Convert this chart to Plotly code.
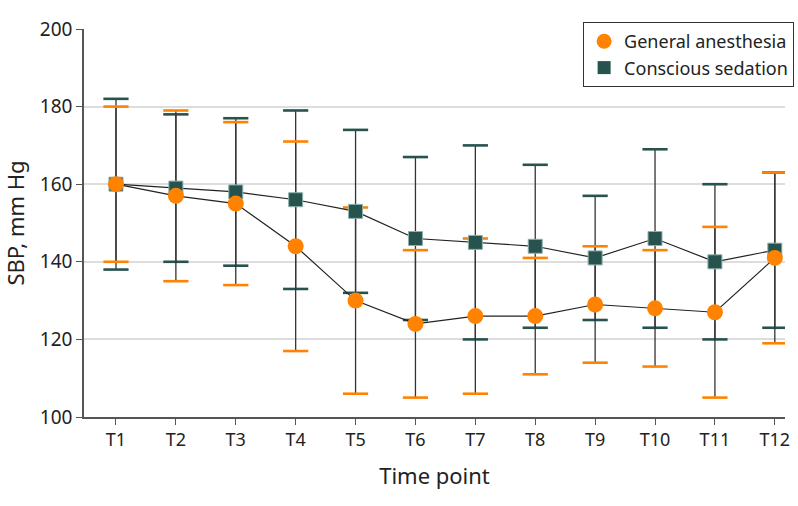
import plotly.graph_objects as go

time_points = ["T1", "T2", "T3", "T4", "T5", "T6", "T7", "T8", "T9", "T10", "T11", "T12"]
x_pos = list(range(1, 13))

ga_mean = [160, 157, 155, 144, 130, 124, 126, 126, 129, 128, 127, 141]
ga_upper = [180, 179, 176, 171, 154, 143, 146, 141, 144, 143, 149, 163]
ga_lower = [140, 135, 134, 117, 106, 105, 106, 111, 114, 113, 105, 119]

cs_mean = [160, 159, 158, 156, 153, 146, 145, 144, 141, 146, 140, 143]
cs_upper = [182, 178, 177, 179, 174, 167, 170, 165, 157, 169, 160, 163]
cs_lower = [138, 140, 139, 133, 132, 125, 120, 123, 125, 123, 120, 123]

ORANGE = "#FF8200"
TEAL = "#27534F"
FONT = "Noto Sans, Open Sans, sans-serif"

fig = go.Figure()

def stems_and_caps(mean, upper, lower, color):
    fig.add_trace(go.Scatter(
        x=x_pos, y=mean, mode="markers", marker=dict(size=0.1, opacity=0),
        error_y=dict(type="data", symmetric=False,
                     array=[u - m for u, m in zip(upper, mean)],
                     arrayminus=[m - l for m, l in zip(mean, lower)],
                     color="#333333", thickness=1.3, width=0),
        showlegend=False, hoverinfo="skip"))
    fig.add_trace(go.Scatter(
        x=x_pos + x_pos, y=upper + lower, mode="markers",
        marker=dict(symbol="line-ew", size=18, line=dict(width=2.6, color=color)),
        showlegend=False, hoverinfo="skip"))

stems_and_caps(cs_mean, cs_upper, cs_lower, TEAL)
stems_and_caps(ga_mean, ga_upper, ga_lower, ORANGE)

fig.add_trace(go.Scatter(
    x=x_pos, y=cs_mean, mode="lines+markers",
    line=dict(color="#222222", width=1.2),
    marker=dict(symbol="square", size=14, color=TEAL, line=dict(width=1, color="#8fb0ad")),
    showlegend=False))
fig.add_trace(go.Scatter(
    x=x_pos, y=ga_mean, mode="lines+markers",
    line=dict(color="#222222", width=1.2),
    marker=dict(symbol="circle", size=16, color=ORANGE, line=dict(width=0)),
    showlegend=False))

fig.add_trace(go.Scatter(x=[None], y=[None], mode="markers", name="General anesthesia",
                         marker=dict(symbol="circle", size=15, color=ORANGE)))
fig.add_trace(go.Scatter(x=[None], y=[None], mode="markers", name="Conscious sedation",
                         marker=dict(symbol="square", size=13, color=TEAL)))

fig.update_layout(
    width=798, height=506,
    margin=dict(l=84, r=13, t=29, b=89, autoexpand=False),
    paper_bgcolor="white", plot_bgcolor="white",
    font=dict(family=FONT, size=18, color="#222222"),
    legend=dict(x=0.712, y=1.018, xanchor="left", yanchor="top",
                bordercolor="#333333", borderwidth=1, bgcolor="white",
                font=dict(size=18), itemsizing="trace", tracegroupgap=0),
    xaxis=dict(range=[0.466, 12.17], tickmode="array", tickvals=x_pos, ticktext=time_points,
               showgrid=False, showline=True, linecolor="#555555", linewidth=1.5,
               ticks="outside", ticklen=6, tickcolor="#555555", automargin=False,
               tickfont=dict(size=18),
               title=dict(text="Time point", standoff=18), zeroline=False),
    yaxis=dict(range=[100, 200], tickvals=[100, 120, 140, 160, 180, 200],
               showgrid=True, gridcolor="#dddddd", gridwidth=1.5,
               showline=True, linecolor="#555555", linewidth=1.5,
               ticks="outside", ticklen=6, tickcolor="#555555", automargin=False,
               tickfont=dict(size=19),
               title=dict(text="SBP, mm Hg", standoff=23), zeroline=False),
)

fig.write_html("out.html", config={"displayModeBar": False},
               post_script="document.body.style.margin='0';")
